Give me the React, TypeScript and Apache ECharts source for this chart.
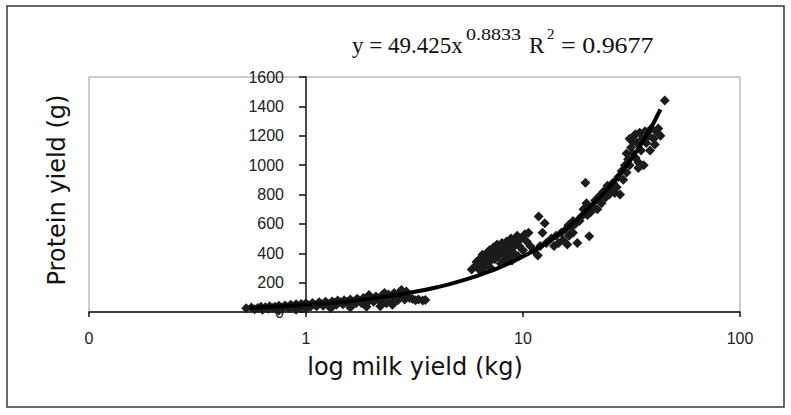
import React, { useEffect, useRef } from 'react';
import * as echarts from 'echarts';

// Tick values and labels
const xTickValues = [0.1, 1, 10, 100];
const xTickLabels = ['0', '1', '10', '100'];
const yMin = 0;
const yMax = 1600;
const yStep = 200;

// Scatter data [milk yield kg, protein yield g]
const clusterLow: number[][] = [
  [0.53, 25], [0.56, 30], [0.58, 18], [0.6, 28], [0.62, 35], [0.63, 15], [0.65, 32], [0.67, 22],
  [0.68, 40], [0.7, 28], [0.72, 35], [0.73, 18], [0.75, 42], [0.77, 30], [0.78, 22], [0.8, 45],
  [0.82, 33], [0.84, 25], [0.85, 50], [0.87, 38], [0.89, 28], [0.9, 52], [0.92, 40], [0.94, 30],
  [0.95, 55], [0.97, 45], [0.99, 35], [1.0, 60], [1.02, 48], [1.05, 38], [1.07, 62], [1.1, 50],
  [1.12, 40], [1.15, 66], [1.18, 55], [1.2, 42], [1.23, 70], [1.26, 58], [1.3, 45], [1.32, 72],
  [1.35, 62], [1.38, 50], [1.4, 78], [1.44, 66], [1.48, 52], [1.5, 80], [1.55, 70], [1.58, 55],
  [1.6, 85], [1.65, 72], [1.7, 60], [1.72, 90], [1.76, 78], [1.8, 62], [1.84, 95], [1.88, 82],
  [1.92, 66], [1.96, 100], [2.0, 86], [2.05, 70], [2.1, 105], [2.15, 92], [2.2, 72], [2.25, 115],
  [2.3, 98], [2.35, 60], [2.4, 120], [2.45, 102], [2.5, 75], [2.55, 130], [2.6, 108], [2.65, 80],
  [2.7, 125], [2.8, 112], [2.85, 85], [2.9, 140], [3.0, 95], [3.1, 88], [3.2, 80], [3.3, 85],
  [3.45, 78], [3.55, 82], [2.2, 40], [1.9, 35], [1.6, 30], [2.5, 50], [1.0, 20], [1.3, 25],
  [0.75, 10], [0.9, 15], [2.75, 150], [2.3, 130], [1.95, 115],
];

const clusterMid: number[][] = [
  [5.8, 290], [6.0, 310], [6.1, 340], [6.2, 300], [6.3, 360], [6.4, 330], [6.5, 390], [6.6, 350],
  [6.7, 310], [6.8, 400], [6.9, 370], [7.0, 420], [7.0, 340], [7.2, 390], [7.3, 440], [7.4, 360],
  [7.5, 410], [7.6, 460], [7.7, 380], [7.8, 430], [7.9, 330], [8.0, 470], [8.1, 400], [8.2, 440],
  [8.3, 360], [8.4, 480], [8.5, 420], [8.6, 380], [8.7, 460], [8.8, 500], [9.0, 440], [9.1, 400],
  [9.3, 480], [9.4, 520], [9.6, 450], [9.8, 500], [10.0, 420], [10.2, 530], [10.4, 480], [7.1, 300],
  [6.4, 280], [8.9, 350], [9.5, 380], [10.6, 540], [10.8, 450],
];

const clusterUpperMid: number[][] = [
  [11.8, 650], [12.6, 605], [12.3, 540], [11.7, 385], [11.2, 420], [12.0, 450], [12.8, 470],
  [13.5, 500], [13.9, 450], [14.2, 520], [14.6, 470], [15.0, 540], [15.3, 490], [15.7, 560],
  [16.0, 460], [16.3, 520], [16.7, 580], [17.0, 540], [17.4, 600], [17.8, 470], [18.2, 620],
  [18.6, 650], [19.0, 700], [19.4, 880], [20.2, 515], [19.8, 660], [19.6, 740], [17.0, 620],
  [16.2, 590],
];

const clusterHigh: number[][] = [
  [20.5, 680], [21, 720], [21.5, 760], [22, 700], [22.5, 790], [23, 740], [23.5, 820], [24, 780],
  [24.5, 860], [25, 800], [25.5, 840], [26, 880], [26.5, 810], [27, 850], [27.5, 920], [28, 800],
  [28.5, 960], [29, 900], [29.5, 1000], [30, 950], [30.5, 1040], [31, 1000], [31.5, 1120], [31, 1180],
  [32, 1080], [32.5, 1200], [33, 1050], [33.5, 1150], [34, 980], [34.5, 1220], [35, 1100], [35.5, 1180],
  [36, 1000], [36.5, 1230], [37, 1150], [38, 1200], [38.5, 1100], [39, 1250], [40, 1180], [40.5, 1140],
  [41, 1230], [42, 1250], [43, 1200], [45, 1440], [33, 1210], [32, 1160], [30, 1080], [34, 1020],
];

// Power trendline points (as drawn)
const trendX = [0.55, 0.7, 1, 1.5, 2, 3, 4, 5, 7, 10, 14, 20, 28, 36, 43];
const trendY = [29, 36, 49, 70, 91, 131, 168, 205, 276, 378, 510, 706, 940, 1170, 1380];

const eqMain = 'y = 49.425x';
const eqExp = '0.8833';
const eqR = 'R';
const eqRExp = '2';
const eqRValue = '= 0.9677';
const xTitle = 'log milk yield (kg)';
const yTitle = 'Protein yield (g)';

export default function App() {
  const ref = useRef<HTMLDivElement>(null);

  useEffect(() => {
    if (!ref.current) return;
    const chart = echarts.init(ref.current, undefined, { renderer: 'svg' });
    const allPoints = [...clusterLow, ...clusterMid, ...clusterUpperMid, ...clusterHigh];
    const trend = trendX.map((x, i) => [x, trendY[i]]);

    const serif = 'Liberation Serif';
    const eqText = (text: string, x: number, y: number, size: number, sx = 1) => ({
      type: 'text',
      x,
      y,
      scaleX: sx,
      silent: true,
      style: {
        text,
        fontFamily: serif,
        fontSize: size,
        fill: '#111',
        textAlign: 'left',
        textVerticalAlign: 'middle',
      },
    });

    chart.setOption({
      animation: false,
      backgroundColor: '#ffffff',
      grid: {
        left: 89,
        top: 77,
        width: 651,
        height: 235,
        show: true,
        borderColor: '#9a9a9a',
        borderWidth: 1,
        backgroundColor: 'transparent',
        containLabel: false,
        outerBoundsMode: 'none',
      },
      xAxis: {
        type: 'log',
        logBase: 10,
        min: 0.1,
        max: 100,
        axisLine: { show: true, lineStyle: { color: '#111', width: 1.5 } },
        axisTick: { show: true, length: 5, lineStyle: { color: '#111', width: 1.5 } },
        splitLine: { show: false },
        axisLabel: {
          margin: 18,
          fontFamily: 'Liberation Sans',
          fontSize: 16,
          color: '#222',
          showMinLabel: true,
          showMaxLabel: true,
          formatter: (v: number) => {
            let best = 0;
            xTickValues.forEach((t, i) => {
              if (Math.abs(Math.log10(t) - Math.log10(v)) < Math.abs(Math.log10(xTickValues[best]) - Math.log10(v))) best = i;
            });
            return xTickLabels[best];
          },
        },
      },
      yAxis: {
        type: 'value',
        min: yMin,
        max: yMax,
        interval: yStep,
        position: 'left',
        offset: -217,
        axisLine: { show: true, lineStyle: { color: '#111', width: 1.5 } },
        axisTick: { show: true, length: 7, lineStyle: { color: '#111', width: 1.5 } },
        splitLine: { show: false },
        axisLabel: {
          margin: 22,
          fontFamily: 'Liberation Sans',
          fontSize: 16,
          color: '#222',
          showMinLabel: true,
          showMaxLabel: true,
          formatter: (v: number) => String(v),
        },
      },
      graphic: [
        {
          type: 'rect',
          shape: { x: 7, y: 6, width: 777, height: 401 },
          style: { fill: 'none', stroke: '#3a3a3a', lineWidth: 1.5 },
          silent: true,
          z: -1,
        },
        eqText(eqMain, 352, 45.5, 23),
        eqText(eqExp, 466, 34, 17, 1.18),
        eqText(eqR, 529, 45.5, 23),
        eqText(eqRExp, 547, 34, 15),
        eqText(eqRValue, 561, 45.5, 23, 1.13),
        {
          type: 'text',
          x: 415,
          y: 367,
          silent: true,
          style: {
            text: xTitle,
            fontFamily: 'DejaVu Sans',
            fontSize: 24,
            fill: '#111',
            textAlign: 'center',
            textVerticalAlign: 'middle',
          },
        },
        {
          type: 'text',
          x: 57,
          y: 190,
          rotation: Math.PI / 2,
          silent: true,
          style: {
            text: yTitle,
            fontFamily: 'DejaVu Sans',
            fontSize: 24,
            fill: '#111',
            textAlign: 'center',
            textVerticalAlign: 'middle',
          },
        },
      ],
      series: [
        {
          type: 'scatter',
          data: allPoints,
          symbol: 'diamond',
          symbolSize: [10, 10],
          itemStyle: { color: '#1c1c1c', opacity: 1 },
          z: 2,
        },
        {
          type: 'line',
          data: trend,
          smooth: true,
          showSymbol: false,
          symbol: 'none',
          lineStyle: { color: '#000', width: 4 },
          z: 3,
        },
      ],
    });

    return () => chart.dispose();
  }, []);

  return (
    <div
      ref={ref}
      style={{ position: 'absolute', left: 0, top: 0, width: 791, height: 415 }}
    />
  );
}
